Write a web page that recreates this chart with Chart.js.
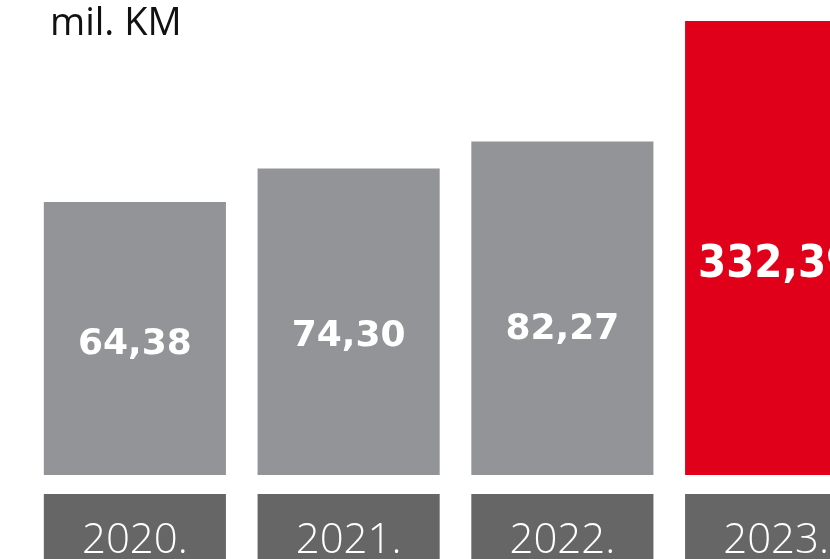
<!DOCTYPE html>
<html>
<head>
<meta charset="utf-8">
<script src="https://cdn.jsdelivr.net/npm/chart.js@4.4.1/dist/chart.umd.min.js"></script>
<style>
    html, body { margin: 0; padding: 0; background: #fff; overflow: hidden; }
    #wrap { width: 830px; height: 559px; overflow: hidden; }
</style>
</head>
<body>
<div id="wrap">
    <canvas id="graficaKm" width="900" height="559"></canvas>
</div>
<script>
// podaci
const godine = ["2020.", "2021.", "2022.", "2023."];
const kilometri = [64.38, 74.30, 82.27, 332.39];
const jedinica = "mil. KM";

const SIVA = "#939498";
const CRVENA = "#e0001a";
const TAMNA = "#666666";

// os ne pocinje od nule (kao u originalu)
const OS_MIN = -16.5;
const OS_MAX = 118;

function formatBroj(v){
    return v.toFixed(2).replace(".", ",");
}

const pozadinaGodina = {
    id: "pozadinaGodina",
    beforeDraw(chart){
        const ctx = chart.ctx;
        const meta = chart.getDatasetMeta(0);
        ctx.save();
        ctx.fillStyle = TAMNA;
        meta.data.forEach(function(bar){
            ctx.fillRect(
                bar.x - bar.width / 2,
                chart.chartArea.bottom + 19,
                bar.width,
                chart.height
            );
        });
        ctx.restore();
    }
};

const oznakeVrijednosti = {
    id: "oznakeVrijednosti",
    afterDatasetsDraw(chart){
        const ctx = chart.ctx;
        const meta = chart.getDatasetMeta(0);
        const area = chart.chartArea;
        ctx.save();
        ctx.fillStyle = "#ffffff";
        ctx.textAlign = "center";
        ctx.textBaseline = "middle";
        meta.data.forEach(function(bar, i){
            const vrh = Math.max(bar.y, area.top);
            const visina = bar.base - vrh;
            const zadnji = i === meta.data.length - 1;
            let y;
            if(zadnji){
                ctx.font = "bold 45px 'DejaVu Sans Condensed', 'DejaVu Sans'";
                y = bar.base - visina * 0.462;
            } else {
                ctx.font = "bold 36px 'DejaVu Sans'";
                y = bar.base - visina * 0.25 - 62;
            }
            ctx.fillText(formatBroj(kilometri[i]), bar.x, y);
        });
        ctx.restore();
    }
};

const naslov = {
    id: "naslov",
    afterDraw(chart){
        const ctx = chart.ctx;
        ctx.save();
        ctx.fillStyle = "#111111";
        ctx.font = "38px 'Open Sans'";
        ctx.textAlign = "left";
        ctx.textBaseline = "alphabetic";
        ctx.fillText(jedinica, 50, 35);
        ctx.restore();
    }
};

const grafica = new Chart(document.getElementById("graficaKm"), {

    type: "bar",

    data: {
        labels: godine,
        datasets: [{
            label: jedinica,
            data: kilometri,
            base: OS_MIN,
            backgroundColor: kilometri.map(function(v, i){
                return i === kilometri.length - 1 ? CRVENA : SIVA;
            }),
            borderWidth: 0,
            categoryPercentage: 1,
            barPercentage: 0.852
        }]
    },

    options: {
        responsive: false,
        animation: false,
        layout: {
            padding: { left: 28, right: 17, top: 21, bottom: 0 }
        },
        plugins: {
            legend: { display: false },
            tooltip: { enabled: false }
        },
        scales: {
            x: {
                grid: { display: false },
                border: { display: false },
                ticks: {
                    color: "#ffffff",
                    padding: 33,
                    font: { family: "'Open Sans'", size: 42, weight: 300 }
                },
                afterFit(scale){
                    scale.height = 84;
                }
            },
            y: {
                display: false,
                min: OS_MIN,
                max: OS_MAX
            }
        }
    },

    plugins: [pozadinaGodina, oznakeVrijednosti, naslov]
});
</script>
</body>
</html>
